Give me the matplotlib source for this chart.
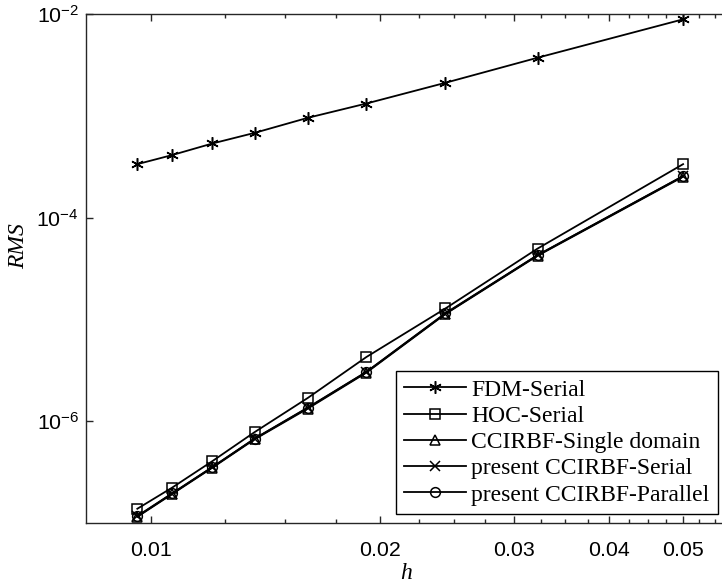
import matplotlib
matplotlib.use("Agg")
import matplotlib.pyplot as plt
from matplotlib.ticker import FixedLocator, FixedFormatter, NullLocator

plt.rcParams["font.family"] = "Liberation Sans"
plt.rcParams["mathtext.default"] = "regular"
plt.rcParams["axes.unicode_minus"] = False

# mesh size and RMS errors
h = [0.0500, 0.0322, 0.02437, 0.01919, 0.01607, 0.01369, 0.01205, 0.01066, 0.00960]
rms_fdm = [8.87e-3, 3.72e-3, 2.11e-3, 1.32e-3, 9.55e-4, 6.80e-4, 5.35e-4, 4.11e-4, 3.35e-4]
rms_hoc = [3.35e-4, 4.96e-5, 1.28e-5, 4.27e-6, 1.69e-6, 7.82e-7, 4.06e-7, 2.22e-7, 1.38e-7]
rms_single = [2.52e-4, 4.22e-5, 1.13e-5, 3.00e-6, 1.33e-6, 6.65e-7, 3.50e-7, 1.92e-7, 1.15e-7]
rms_serial = [2.55e-4, 4.27e-5, 1.14e-5, 3.04e-6, 1.35e-6, 6.73e-7, 3.54e-7, 1.94e-7, 1.16e-7]
rms_parallel = [2.56e-4, 4.28e-5, 1.15e-5, 3.05e-6, 1.36e-6, 6.75e-7, 3.55e-7, 1.95e-7, 1.17e-7]

labels = ["FDM-Serial", "HOC-Serial", "CCIRBF-Single domain",
          "present CCIRBF-Serial", "present CCIRBF-Parallel"]
markers = [(6, 2, 0), "s", "^", "x", "o"]

x_major = [0.01, 0.02, 0.03, 0.04, 0.05]
x_major_labels = ["0.01", "0.02", "0.03", "0.04", "0.05"]
x_minor = [0.0025 * k for k in range(4, 24) if k % 4 != 0]
y_major = [1e-6, 1e-4, 1e-2]
y_major_labels = [r"$10^{-6}$", r"$10^{-4}$", r"$10^{-2}$"]

fig = plt.figure(figsize=(7.22, 5.88), dpi=100)
# right edge of the box falls just outside the picture, as in the original
ax = fig.add_axes([86 / 722, 65 / 588, 641 / 722, 509 / 588])

series = [rms_fdm, rms_hoc, rms_single, rms_serial, rms_parallel]
for ys, mk, lab in zip(series, markers, labels):
    ms = 9 if mk == (6, 2, 0) else 7
    ax.loglog(h, ys, color="k", lw=1.3, marker=mk, ms=ms, mfc="none",
              mec="k", mew=1.1, label=lab)

ax.set_xlim(0.00822, 0.0571)
ax.set_ylim(1e-7, 1e-2)

ax.xaxis.set_major_locator(FixedLocator(x_major))
ax.xaxis.set_major_formatter(FixedFormatter(x_major_labels))
ax.xaxis.set_minor_locator(FixedLocator(x_minor))
ax.xaxis.set_minor_formatter(FixedFormatter([]))
ax.yaxis.set_major_locator(FixedLocator(y_major))
ax.yaxis.set_major_formatter(FixedFormatter(y_major_labels))
ax.yaxis.set_minor_locator(NullLocator())

ax.tick_params(which="both", direction="in", top=True, right=False,
               color="#262626", labelsize=15.4)
ax.tick_params(which="major", length=5, width=1)
ax.tick_params(which="minor", length=3, width=1)
ax.tick_params(axis="x", pad=13)
ax.tick_params(axis="y", pad=5)
for sp in ax.spines.values():
    sp.set_color("#262626")
    sp.set_linewidth(1.0)

ax.set_xlabel("h", family="Liberation Serif", style="italic", fontsize=17, labelpad=2)
ax.set_ylabel("RMS", family="Liberation Serif", style="italic", fontsize=17)
ax.yaxis.set_label_coords(-0.088, 0.545)

leg = ax.legend(loc="lower right", bbox_to_anchor=(718 / 722, 74 / 588),
                bbox_transform=fig.transFigure, borderaxespad=0,
                prop={"family": "Liberation Serif", "size": 17},
                fancybox=False, edgecolor="k", framealpha=1,
                handlelength=2.6, handletextpad=0.25, labelspacing=0.2,
                borderpad=0.35)
leg.get_frame().set_linewidth(1.0)

fig.savefig("out.png", dpi=100)
